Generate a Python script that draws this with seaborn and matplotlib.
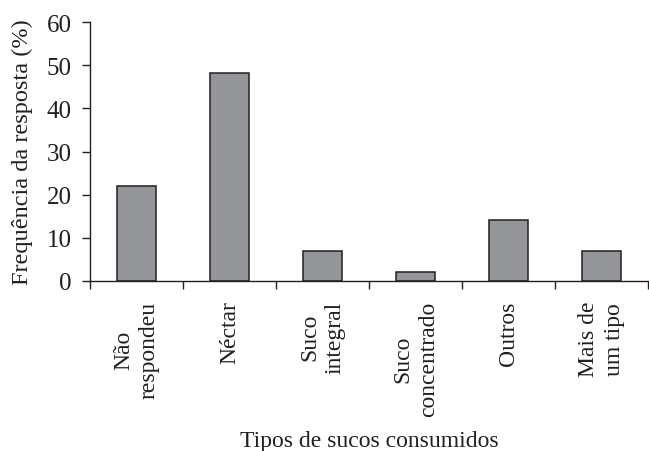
import matplotlib
matplotlib.use("Agg")
import matplotlib.pyplot as plt
import seaborn as sns
import pandas as pd
import numpy as np

categories = ["Não\nrespondeu", "Néctar", "Suco\nintegral", "Suco\nconcentrado", "Outros", "Mais de\num tipo"]
values = [22, 48.2, 7, 2.1, 14.1, 7]
yticks = [0, 10, 20, 30, 40, 50, 60]

sns.set_theme(style="white")
plt.rcParams['font.family'] = ['Liberation Serif', 'DejaVu Serif']
ink = "#231f20"
plt.rcParams['text.color'] = ink

df = pd.DataFrame({"cat": categories, "val": values})

fig = plt.figure(figsize=(6.49, 4.52), dpi=100)
ax = fig.add_axes([90/649, 1-282/452, (648-90)/649, (282-23)/452])
sns.barplot(data=df, x="cat", y="val", ax=ax, color="#939598", saturation=1,
            width=0.41, edgecolor=ink, linewidth=1.1)

ax.set_xlim(-0.5, len(categories)-0.5)
ax.set_ylim(0, 60)
ax.set_yticks(yticks)
ax.set_yticklabels([str(t) for t in yticks], fontsize=18, color=ink)
ax.set_xticks(range(len(categories)))
ax.set_xticklabels(categories, rotation=90, fontsize=17, color=ink, multialignment="center",
                   linespacing=1.3)
ax.set_xticks(np.arange(-0.5, len(categories), 1), minor=True)
ax.tick_params(axis="x", which="major", length=0, pad=14)
ax.tick_params(axis="x", which="minor", length=6, width=1, color=ink, direction="out", bottom=True)
ax.tick_params(axis="y", which="major", length=6, width=1, color=ink, direction="out", left=True, pad=7)

for s in ["top", "right"]:
    ax.spines[s].set_visible(False)
for s in ["left", "bottom"]:
    ax.spines[s].set_color(ink)
    ax.spines[s].set_linewidth(1)

ax.set_ylabel("Frequência da resposta (%)", fontsize=17.5, color=ink, labelpad=10)
ax.set_xlabel("Tipos de sucos consumidos", fontsize=17, color=ink, labelpad=10)

fig.savefig("out.png", dpi=100)
